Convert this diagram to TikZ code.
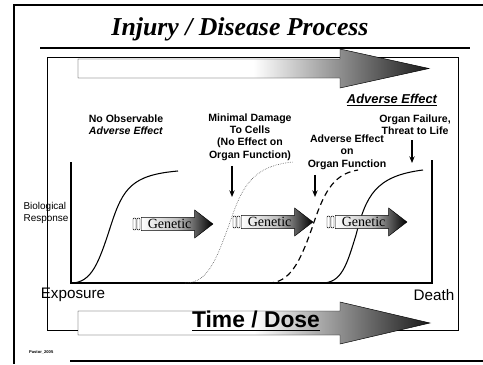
\documentclass[tikz,border=0pt]{standalone}
\usepackage{fontspec}
\setmainfont{Liberation Serif}
\setsansfont{Liberation Sans}
\usetikzlibrary{positioning, arrows.meta, shapes.arrows}

\begin{document}
\begin{tikzpicture}[
		x=0.03cm, y=-0.03cm,
		font=\sffamily,
		% Text styles
		stageLabel/.style={font=\sffamily\bfseries\fontsize{9}{10.6}\selectfont, align=center, inner sep=1pt},
		axisLabel/.style={font=\sffamily\fontsize{13}{15}\selectfont, inner sep=0pt},
		% Curve styles
		curveSolid/.style={line width=0.9pt},
		curveDotted/.style={line width=0.5pt, densely dotted, black!75},
		curveDashed/.style={line width=1pt, dash pattern=on 1.8mm off 1.2mm},
		% Arrow styles
		pointer/.style={-{Stealth[length=2mm, width=1.6mm]}, line width=0.9pt, shorten <=1.2mm},
		bigArrow/.style={draw=black, line width=0.4pt, left color=white, right color=black!90, middle color=white},
		geneArrow/.style={single arrow, draw=black, line width=0.4pt, left color=white, right color=black, middle color=black!25,
			single arrow head extend=2.2mm, single arrow tip angle=75, minimum height=21.5mm,
			text width=15mm, align=left,
			inner sep=0.5mm, font=\rmfamily\fontsize{12}{12}\selectfont, anchor=west},
		iconBar/.style={draw=black, line width=0.4pt, rounded corners=0.3mm}
		]
		\useasboundingbox (0,0) rectangle (483,364);
		
		% =========================================================
		% FRAME AND TITLE
		% =========================================================
		\draw[line width=1.2pt] (483,5) -- (14,5) -- (14,364);
		\draw[line width=1.2pt] (70,361) -- (483,361);
		\node[font=\rmfamily\bfseries\itshape\fontsize{22}{26}\selectfont] (title) at (240,29) {Injury / Disease Process};
		\draw[line width=1pt] (40,48) -- (470,48);
		\draw[line width=0.5pt] (47,57) rectangle (458,330);
		
		% Top progress arrow
		\shadedraw[bigArrow] (78,59) -- (340,59) -- (340,49) -- (429,68.5) -- (340,88) -- (340,78) -- (78,78) -- cycle;
		
		% =========================================================
		% STAGE LABELS
		% =========================================================
		\node[stageLabel, font=\sffamily\bfseries\itshape\fontsize{11}{12}\selectfont] (adverse) at (392,100) {\underline{Adverse Effect}};
		\node[stageLabel] (noEffect) at (126,125) {No Observable\\\textit{Adverse Effect}};
		\node[stageLabel] (minimal) at (250,137) {Minimal Damage\\To Cells\\(No Effect on\\Organ Function)};
		\node[stageLabel] (organFn) at (347,152) {Adverse Effect\\on\\Organ Function};
		\node[stageLabel] (failure) at (415,125) {Organ Failure,\\Threat to Life};
		
		% =========================================================
		% RESPONSE CURVES
		% =========================================================
		\draw[line width=1pt] (71,162) -- (71,283) -- (432,283) -- (432,160);
		
		\draw[curveSolid] (71,283) .. controls (92,283) and (99,262) .. (111,225) .. controls (123,188) and (132,175) .. (178,171);
		\draw[curveDotted] (185,283) .. controls (208,283) and (216,260) .. (229,225) .. controls (241,190) and (250,166) .. (293,162);
		\draw[curveDashed] (268,283) .. controls (290,283) and (300,262) .. (312,228) .. controls (323,195) and (332,174) .. (358,170);
		\draw[curveSolid] (322,283) .. controls (342,283) and (347,264) .. (356,235) .. controls (366,196) and (375,176) .. (423,170);
		
		% Pointers onto the curves
		\coordinate (onDotted) at (232,197);
		\coordinate (onDashed) at (315,197);
		\coordinate (onFailure) at (412,163);
		\draw[pointer] (minimal.south -| onDotted) -- (onDotted);
		\draw[pointer] (organFn.south -| onDashed) -- (onDashed);
		\draw[pointer] (failure.south -| onFailure) -- (onFailure);
		
		% Genetic arrows
		\node[geneArrow] (geneA) at (141,224) {Genetic};
		\node[geneArrow] (geneB) at (241,222) {Genetic};
		\node[geneArrow] (geneC) at (335,222) {Genetic};
		\draw[iconBar] (geneA.west) ++(-8,-6) rectangle ++(3,12) ++(1,-12) rectangle ++(3,12);
		\draw[iconBar] (geneB.west) ++(-8,-6) rectangle ++(3,12) ++(1,-12) rectangle ++(3,12);
		\draw[iconBar] (geneC.west) ++(-8,-6) rectangle ++(3,12) ++(1,-12) rectangle ++(3,12);
		
		% Axis texts
		\node[font=\sffamily\fontsize{8.5}{10}\selectfont, align=left, inner sep=0pt] (response) at (46,213) {Biological\\Response};
		\node[axisLabel] (exposure) at (73,295) {Exposure};
		\node[axisLabel] (death) at (434,295) {Death};
		
		% =========================================================
		% BOTTOM ARROW
		% =========================================================
		\shadedraw[bigArrow] (78,311) -- (340,311) -- (340,302) -- (430,323) -- (340,344) -- (340,335) -- (78,335) -- cycle;
		\node[font=\sffamily\bfseries\fontsize{19.5}{21}\selectfont] (timeDose) at (256,321) {\underline{Time / Dose}};
		\node[font=\sffamily\bfseries\fontsize{3.5}{4}\selectfont, anchor=west] (credit) at (25,352) {Pastor\_2005};
		
	\end{tikzpicture}
\end{document}
